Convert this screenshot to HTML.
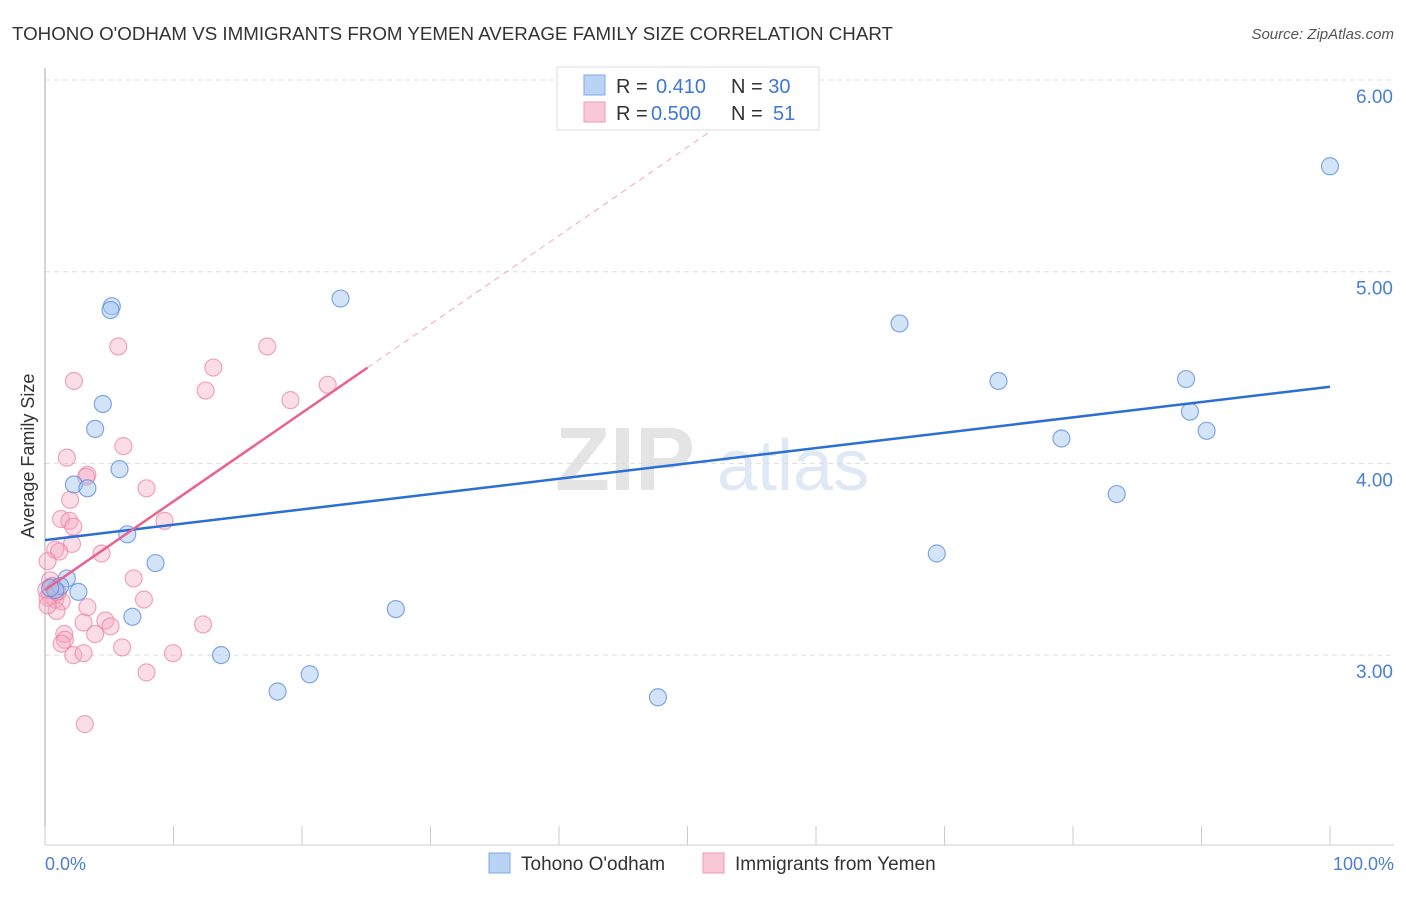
<!DOCTYPE html>
<html><head><meta charset="utf-8"><style>
body{margin:0;background:#fff;font-family:"Liberation Sans",sans-serif;}
svg text{font-family:"Liberation Sans",sans-serif;}
</style></head><body>
<svg id="chart" width="1406" height="892">
<text x="12" y="40" font-size="18" fill="#333" textLength="881" lengthAdjust="spacingAndGlyphs">TOHONO O'ODHAM VS IMMIGRANTS FROM YEMEN AVERAGE FAMILY SIZE CORRELATION CHART</text>
<text x="1394" y="39" font-size="15" fill="#555" font-style="italic" text-anchor="end">Source: ZipAtlas.com</text>
<g>
<text x="555" y="490" font-size="90" fill="#e4e4e4" font-family="Liberation Serif" font-weight="bold">ZIP</text>
<text x="717" y="490" font-size="72" fill="#dfe9f6">atlas</text>
</g>
<g id="grid"></g>
<line x1="45" y1="68" x2="45" y2="845" stroke="#aaa"/>
<line x1="45" y1="845" x2="1394" y2="845" stroke="#ccc"/>
<g id="xticks"></g>
<text x="45" y="870" font-size="18" fill="#4a7fd4">0.0%</text>
<text x="1394" y="870" font-size="18" fill="#4a7fd4" text-anchor="end">100.0%</text>
<text transform="translate(34,456) rotate(-90)" font-size="18" fill="#333" text-anchor="middle">Average Family Size</text>
<g id="pts"></g>
<g id="lines"></g>
<g>
<rect x="557" y="67" width="262" height="63" fill="#fff" stroke="#ddd"/>
<rect x="584" y="75" width="21" height="20" fill="#b9d3f5" stroke="#7fa9e6"/>
<rect x="584" y="102" width="21" height="20" fill="#f9c8d6" stroke="#ee9ab5"/>
<text x="616" y="93" font-size="20" fill="#333">R = <tspan fill="#3d78d8" x="656">0.410</tspan><tspan x="731" fill="#333">N = </tspan><tspan fill="#3d78d8">30</tspan></text>
<text x="616" y="120" font-size="20" fill="#333">R = <tspan fill="#3d78d8" x="651">0.500</tspan><tspan x="731" fill="#333">N = </tspan><tspan fill="#3d78d8" x="773">51</tspan></text>
</g>
<g>
<rect x="489" y="853" width="21" height="20" fill="#b9d3f5" stroke="#7fa9e6"/>
<text x="521" y="870" font-size="19" fill="#333">Tohono O'odham</text>
<rect x="703" y="853" width="21" height="20" fill="#f9c8d6" stroke="#ee9ab5"/>
<text x="735" y="870" font-size="19" fill="#333">Immigrants from Yemen</text>
</g>
</svg>
<script>
const yTicks=[3,4,5,6];
const yTickLabels=["3.00","4.00","5.00","6.00"];
const blueX=[5.2,5.1,23.0,4.5,3.9,2.25,3.3,5.8,6.4,8.6,1.7,1.2,0.8,2.6,6.8,13.7,18.1,20.6,27.3,47.7,66.5,69.4,74.2,79.1,83.4,88.8,89.1,90.4,100,0.4];
const blueY=[4.82,4.80,4.86,4.31,4.18,3.89,3.87,3.97,3.63,3.48,3.40,3.36,3.34,3.33,3.20,3.00,2.81,2.90,3.24,2.78,4.73,3.53,4.43,4.13,3.84,4.44,4.27,4.17,5.55,3.35];
const pinkX=[2.25,5.7,17.3,13.1,12.5,19.1,22.0,6.1,1.7,3.3,3.2,7.9,1.95,1.25,1.9,2.2,9.3,2.1,0.8,1.1,4.4,0.2,6.9,0.4,0.5,0.1,0.4,0.8,1.3,0.9,7.7,3.3,4.7,5.1,3.0,1.5,1.55,1.3,3.9,2.2,3.0,6.0,9.96,12.3,7.9,3.1,0.2,0.6,1.0,0.2,0.85];
const pinkY=[4.43,4.61,4.61,4.50,4.38,4.33,4.41,4.09,4.03,3.94,3.93,3.87,3.81,3.71,3.70,3.67,3.70,3.58,3.55,3.54,3.53,3.49,3.40,3.39,3.36,3.34,3.31,3.29,3.28,3.23,3.29,3.25,3.18,3.15,3.17,3.11,3.08,3.06,3.11,3.00,3.01,3.04,3.01,3.16,2.91,2.64,3.30,3.36,3.33,3.26,3.33];
const blueFit=[3.60,4.40];
const pinkFit=[3.34,0.0462];
const X=v=>45+v*12.85, Y=v=>80+(6-v)*191.7;
const ns="http://www.w3.org/2000/svg";
function mk(t,a,p){const e=document.createElementNS(ns,t);for(const k in a)e.setAttribute(k,a[k]);p.appendChild(e);return e;}
const grid=document.getElementById('grid');
yTicks.forEach((t,i)=>{
 const l=mk('line',{x1:45,x2:1394,y1:Y(t),y2:Y(t),stroke:'#ddd','stroke-dasharray':'5,4'},grid);
 
 
 const tx=mk('text',{x:1393,y:Y(t)+23,'font-size':19,fill:'#4a7fd4','text-anchor':'end'},grid);
 tx.textContent=yTickLabels[i];
 
 
});
const xt=document.getElementById('xticks');
for(let i=0;i<=10;i++){const l=mk('line',{x1:X(i*10),x2:X(i*10),y1:826,y2:845,stroke:'#ccc'},xt);
 
 }
const pts=document.getElementById('pts');
pinkX.forEach((x,i)=>{const c=mk('circle',{cx:X(x),cy:Y(pinkY[i]),r:8.5,fill:'rgba(245,170,195,0.4)',stroke:'rgba(235,130,165,0.7)','stroke-width':1.2},pts);
 
 });
blueX.forEach((x,i)=>{const c=mk('circle',{cx:X(x),cy:Y(blueY[i]),r:8.5,fill:'rgba(160,195,240,0.45)',stroke:'rgba(90,140,220,0.75)','stroke-width':1.2},pts);
 
 });
const lg=document.getElementById('lines');
const bl=mk('line',{x1:X(0),y1:Y(blueFit[0]),x2:X(100),y2:Y(blueFit[1]),stroke:'#2a6fd6','stroke-width':2.5},lg);


const pe=25.1;
const pl=mk('line',{x1:X(0),y1:Y(pinkFit[0]),x2:X(pe),y2:Y(pinkFit[0]+pinkFit[1]*pe),stroke:'#e8638f','stroke-width':2.5},lg);


const xe=(6.05-pinkFit[0])/pinkFit[1];
const pd=mk('line',{x1:X(pe),y1:Y(pinkFit[0]+pinkFit[1]*pe),x2:X(xe),y2:Y(6.05),stroke:'#f0a5bd','stroke-width':1,'stroke-dasharray':'6,5'},lg);


</script>
</body></html>
